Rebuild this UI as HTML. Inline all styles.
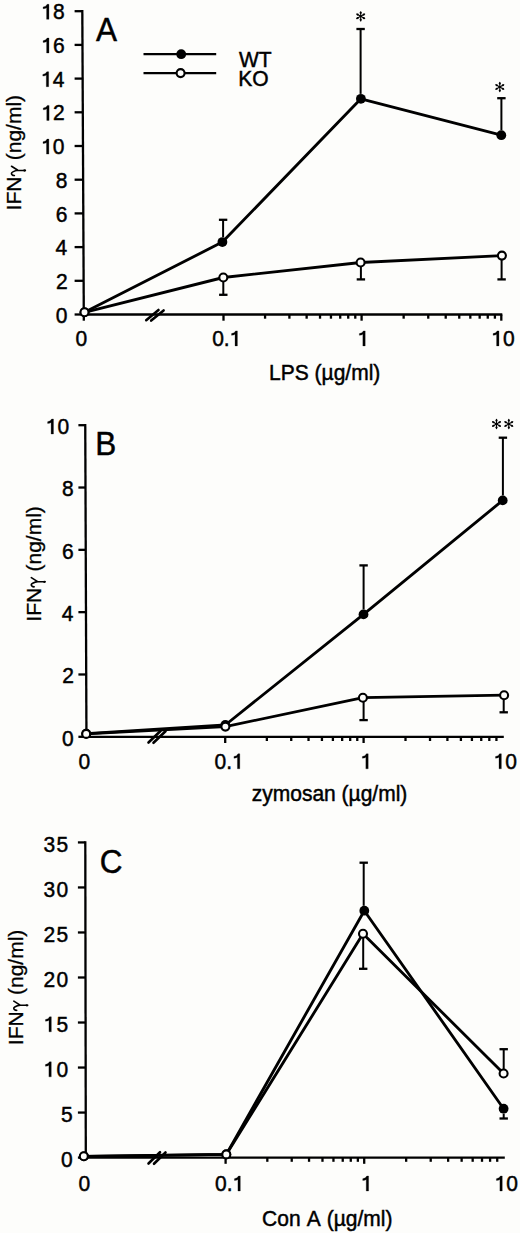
<!DOCTYPE html>
<html><head><meta charset="utf-8"><style>
html,body{margin:0;padding:0;background:#fdfdfb;}
svg{display:block;}
text{font-family:"Liberation Sans",sans-serif;}
</style></head><body>
<svg width="520" height="1233" viewBox="0 0 520 1233">
<rect x="0" y="0" width="520" height="1233" fill="#fdfdfb"/>
<g font-family="Liberation Sans, sans-serif">
<g stroke="#000" fill="none">
<line x1="82.30" y1="10.05" x2="83.80" y2="315.65" stroke-width="2.3" stroke-linecap="butt"/>
<line x1="74.60" y1="314.50" x2="83.80" y2="314.50" stroke-width="2.3" stroke-linecap="butt"/>
<line x1="74.60" y1="280.80" x2="83.63" y2="280.80" stroke-width="2.3" stroke-linecap="butt"/>
<line x1="74.60" y1="247.10" x2="83.47" y2="247.10" stroke-width="2.3" stroke-linecap="butt"/>
<line x1="74.60" y1="213.40" x2="83.30" y2="213.40" stroke-width="2.3" stroke-linecap="butt"/>
<line x1="74.60" y1="179.70" x2="83.13" y2="179.70" stroke-width="2.3" stroke-linecap="butt"/>
<line x1="74.60" y1="146.00" x2="82.97" y2="146.00" stroke-width="2.3" stroke-linecap="butt"/>
<line x1="74.60" y1="112.30" x2="82.80" y2="112.30" stroke-width="2.3" stroke-linecap="butt"/>
<line x1="74.60" y1="78.60" x2="82.63" y2="78.60" stroke-width="2.3" stroke-linecap="butt"/>
<line x1="74.60" y1="44.90" x2="82.47" y2="44.90" stroke-width="2.3" stroke-linecap="butt"/>
<line x1="74.60" y1="11.20" x2="82.30" y2="11.20" stroke-width="2.3" stroke-linecap="butt"/>
<line x1="82.65" y1="314.50" x2="502.30" y2="314.50" stroke-width="2.3" stroke-linecap="butt"/>
<line x1="83.80" y1="314.50" x2="83.80" y2="320.70" stroke-width="2.3" stroke-linecap="butt"/>
<line x1="223.50" y1="314.50" x2="223.50" y2="320.70" stroke-width="2.3" stroke-linecap="butt"/>
<line x1="361.60" y1="314.50" x2="361.60" y2="320.70" stroke-width="2.3" stroke-linecap="butt"/>
<line x1="501.30" y1="314.50" x2="501.30" y2="320.70" stroke-width="2.3" stroke-linecap="butt"/>
<line x1="265.07" y1="314.50" x2="265.07" y2="318.70" stroke-width="2.3" stroke-linecap="butt"/>
<line x1="289.39" y1="314.50" x2="289.39" y2="318.70" stroke-width="2.3" stroke-linecap="butt"/>
<line x1="306.64" y1="314.50" x2="306.64" y2="318.70" stroke-width="2.3" stroke-linecap="butt"/>
<line x1="320.03" y1="314.50" x2="320.03" y2="318.70" stroke-width="2.3" stroke-linecap="butt"/>
<line x1="330.96" y1="314.50" x2="330.96" y2="318.70" stroke-width="2.3" stroke-linecap="butt"/>
<line x1="340.21" y1="314.50" x2="340.21" y2="318.70" stroke-width="2.3" stroke-linecap="butt"/>
<line x1="348.22" y1="314.50" x2="348.22" y2="318.70" stroke-width="2.3" stroke-linecap="butt"/>
<line x1="355.28" y1="314.50" x2="355.28" y2="318.70" stroke-width="2.3" stroke-linecap="butt"/>
<line x1="403.65" y1="314.50" x2="403.65" y2="318.70" stroke-width="2.3" stroke-linecap="butt"/>
<line x1="428.25" y1="314.50" x2="428.25" y2="318.70" stroke-width="2.3" stroke-linecap="butt"/>
<line x1="445.71" y1="314.50" x2="445.71" y2="318.70" stroke-width="2.3" stroke-linecap="butt"/>
<line x1="459.25" y1="314.50" x2="459.25" y2="318.70" stroke-width="2.3" stroke-linecap="butt"/>
<line x1="470.31" y1="314.50" x2="470.31" y2="318.70" stroke-width="2.3" stroke-linecap="butt"/>
<line x1="479.66" y1="314.50" x2="479.66" y2="318.70" stroke-width="2.3" stroke-linecap="butt"/>
<line x1="487.76" y1="314.50" x2="487.76" y2="318.70" stroke-width="2.3" stroke-linecap="butt"/>
<line x1="494.91" y1="314.50" x2="494.91" y2="318.70" stroke-width="2.3" stroke-linecap="butt"/>
<line x1="146.20" y1="320.20" x2="158.50" y2="310.00" stroke-width="2.6" stroke-linecap="round"/>
<line x1="151.20" y1="320.60" x2="163.60" y2="310.40" stroke-width="2.6" stroke-linecap="round"/>
</g>
<g stroke="#000" fill="none">
<path d="M84.50,312.30 L222.40,242.05 L360.90,98.80 L501.30,135.20" stroke-width="2.85" stroke-linejoin="round"/>
<path d="M84.50,312.30 L223.30,277.50 L360.60,262.50 L501.90,255.60" stroke-width="2.85" stroke-linejoin="round"/>
<line x1="223.10" y1="237.15" x2="223.10" y2="219.80" stroke-width="2.0" stroke-linecap="butt"/>
<line x1="218.90" y1="219.80" x2="227.30" y2="219.80" stroke-width="2.3" stroke-linecap="butt"/>
<line x1="360.60" y1="93.90" x2="360.60" y2="29.00" stroke-width="2.0" stroke-linecap="butt"/>
<line x1="356.40" y1="29.00" x2="364.80" y2="29.00" stroke-width="2.3" stroke-linecap="butt"/>
<line x1="501.40" y1="130.30" x2="501.40" y2="98.20" stroke-width="2.0" stroke-linecap="butt"/>
<line x1="497.20" y1="98.20" x2="505.60" y2="98.20" stroke-width="2.3" stroke-linecap="butt"/>
<line x1="223.30" y1="281.50" x2="223.30" y2="294.80" stroke-width="2.0" stroke-linecap="butt"/>
<line x1="219.10" y1="294.80" x2="227.50" y2="294.80" stroke-width="2.3" stroke-linecap="butt"/>
<line x1="360.90" y1="266.50" x2="360.90" y2="279.40" stroke-width="2.0" stroke-linecap="butt"/>
<line x1="356.70" y1="279.40" x2="365.10" y2="279.40" stroke-width="2.3" stroke-linecap="butt"/>
<line x1="501.60" y1="259.60" x2="501.60" y2="279.40" stroke-width="2.0" stroke-linecap="butt"/>
<line x1="497.40" y1="279.40" x2="505.80" y2="279.40" stroke-width="2.3" stroke-linecap="butt"/>
</g>
<circle cx="84.50" cy="312.30" r="4.9" fill="#000"/>
<circle cx="222.40" cy="242.05" r="4.9" fill="#000"/>
<circle cx="360.90" cy="98.80" r="4.9" fill="#000"/>
<circle cx="501.30" cy="135.20" r="4.9" fill="#000"/>
<circle cx="84.50" cy="312.30" r="4.0" fill="#fdfdfb" stroke="#000" stroke-width="2.1"/>
<circle cx="223.30" cy="277.50" r="4.0" fill="#fdfdfb" stroke="#000" stroke-width="2.1"/>
<circle cx="360.60" cy="262.50" r="4.0" fill="#fdfdfb" stroke="#000" stroke-width="2.1"/>
<circle cx="501.90" cy="255.60" r="4.0" fill="#fdfdfb" stroke="#000" stroke-width="2.1"/>
<g stroke="#000" fill="none">
<line x1="85.25" y1="424.05" x2="86.45" y2="737.95" stroke-width="2.3" stroke-linecap="butt"/>
<line x1="78.40" y1="736.80" x2="86.45" y2="736.80" stroke-width="2.3" stroke-linecap="butt"/>
<line x1="78.40" y1="674.48" x2="86.21" y2="674.48" stroke-width="2.3" stroke-linecap="butt"/>
<line x1="78.40" y1="612.16" x2="85.97" y2="612.16" stroke-width="2.3" stroke-linecap="butt"/>
<line x1="78.40" y1="549.84" x2="85.73" y2="549.84" stroke-width="2.3" stroke-linecap="butt"/>
<line x1="78.40" y1="487.52" x2="85.49" y2="487.52" stroke-width="2.3" stroke-linecap="butt"/>
<line x1="78.40" y1="425.20" x2="85.25" y2="425.20" stroke-width="2.3" stroke-linecap="butt"/>
<line x1="85.30" y1="736.80" x2="503.80" y2="736.80" stroke-width="2.3" stroke-linecap="butt"/>
<line x1="225.20" y1="736.80" x2="225.20" y2="743.00" stroke-width="2.3" stroke-linecap="butt"/>
<line x1="363.60" y1="736.80" x2="363.60" y2="743.00" stroke-width="2.3" stroke-linecap="butt"/>
<line x1="266.86" y1="736.80" x2="266.86" y2="741.00" stroke-width="2.3" stroke-linecap="butt"/>
<line x1="291.23" y1="736.80" x2="291.23" y2="741.00" stroke-width="2.3" stroke-linecap="butt"/>
<line x1="308.53" y1="736.80" x2="308.53" y2="741.00" stroke-width="2.3" stroke-linecap="butt"/>
<line x1="321.94" y1="736.80" x2="321.94" y2="741.00" stroke-width="2.3" stroke-linecap="butt"/>
<line x1="332.90" y1="736.80" x2="332.90" y2="741.00" stroke-width="2.3" stroke-linecap="butt"/>
<line x1="342.16" y1="736.80" x2="342.16" y2="741.00" stroke-width="2.3" stroke-linecap="butt"/>
<line x1="350.19" y1="736.80" x2="350.19" y2="741.00" stroke-width="2.3" stroke-linecap="butt"/>
<line x1="357.27" y1="736.80" x2="357.27" y2="741.00" stroke-width="2.3" stroke-linecap="butt"/>
<line x1="405.50" y1="736.80" x2="405.50" y2="741.00" stroke-width="2.3" stroke-linecap="butt"/>
<line x1="430.02" y1="736.80" x2="430.02" y2="741.00" stroke-width="2.3" stroke-linecap="butt"/>
<line x1="447.41" y1="736.80" x2="447.41" y2="741.00" stroke-width="2.3" stroke-linecap="butt"/>
<line x1="460.90" y1="736.80" x2="460.90" y2="741.00" stroke-width="2.3" stroke-linecap="butt"/>
<line x1="471.92" y1="736.80" x2="471.92" y2="741.00" stroke-width="2.3" stroke-linecap="butt"/>
<line x1="481.24" y1="736.80" x2="481.24" y2="741.00" stroke-width="2.3" stroke-linecap="butt"/>
<line x1="489.31" y1="736.80" x2="489.31" y2="741.00" stroke-width="2.3" stroke-linecap="butt"/>
<line x1="496.43" y1="736.80" x2="496.43" y2="741.00" stroke-width="2.3" stroke-linecap="butt"/>
<line x1="148.50" y1="742.50" x2="160.50" y2="731.00" stroke-width="2.6" stroke-linecap="round"/>
<line x1="153.50" y1="742.80" x2="165.50" y2="731.30" stroke-width="2.6" stroke-linecap="round"/>
</g>
<g stroke="#000" fill="none">
<path d="M86.20,733.60 L225.30,725.00 L363.50,614.40 L502.70,500.40" stroke-width="2.85" stroke-linejoin="round"/>
<path d="M86.20,733.90 L225.40,726.60 L362.90,697.70 L504.10,695.20" stroke-width="2.85" stroke-linejoin="round"/>
<line x1="363.60" y1="609.50" x2="363.60" y2="565.40" stroke-width="2.0" stroke-linecap="butt"/>
<line x1="359.40" y1="565.40" x2="367.80" y2="565.40" stroke-width="2.3" stroke-linecap="butt"/>
<line x1="502.90" y1="495.50" x2="502.90" y2="437.70" stroke-width="2.0" stroke-linecap="butt"/>
<line x1="498.70" y1="437.70" x2="507.10" y2="437.70" stroke-width="2.3" stroke-linecap="butt"/>
<line x1="363.60" y1="701.70" x2="363.60" y2="720.10" stroke-width="2.0" stroke-linecap="butt"/>
<line x1="359.40" y1="720.10" x2="367.80" y2="720.10" stroke-width="2.3" stroke-linecap="butt"/>
<line x1="503.70" y1="699.20" x2="503.70" y2="712.30" stroke-width="2.0" stroke-linecap="butt"/>
<line x1="499.50" y1="712.30" x2="507.90" y2="712.30" stroke-width="2.3" stroke-linecap="butt"/>
</g>
<circle cx="86.20" cy="733.60" r="4.9" fill="#000"/>
<circle cx="225.30" cy="725.00" r="4.9" fill="#000"/>
<circle cx="363.50" cy="614.40" r="4.9" fill="#000"/>
<circle cx="502.70" cy="500.40" r="4.9" fill="#000"/>
<circle cx="86.20" cy="733.90" r="4.0" fill="#fdfdfb" stroke="#000" stroke-width="2.1"/>
<circle cx="225.40" cy="726.60" r="4.0" fill="#fdfdfb" stroke="#000" stroke-width="2.1"/>
<circle cx="362.90" cy="697.70" r="4.0" fill="#fdfdfb" stroke="#000" stroke-width="2.1"/>
<circle cx="504.10" cy="695.20" r="4.0" fill="#fdfdfb" stroke="#000" stroke-width="2.1"/>
<g stroke="#000" fill="none">
<line x1="85.30" y1="841.27" x2="85.80" y2="1158.75" stroke-width="2.3" stroke-linecap="butt"/>
<line x1="77.90" y1="1157.60" x2="85.80" y2="1157.60" stroke-width="2.3" stroke-linecap="butt"/>
<line x1="77.90" y1="1112.57" x2="85.73" y2="1112.57" stroke-width="2.3" stroke-linecap="butt"/>
<line x1="77.90" y1="1067.55" x2="85.66" y2="1067.55" stroke-width="2.3" stroke-linecap="butt"/>
<line x1="77.90" y1="1022.52" x2="85.59" y2="1022.52" stroke-width="2.3" stroke-linecap="butt"/>
<line x1="77.90" y1="977.50" x2="85.51" y2="977.50" stroke-width="2.3" stroke-linecap="butt"/>
<line x1="77.90" y1="932.47" x2="85.44" y2="932.47" stroke-width="2.3" stroke-linecap="butt"/>
<line x1="77.90" y1="887.45" x2="85.37" y2="887.45" stroke-width="2.3" stroke-linecap="butt"/>
<line x1="77.90" y1="842.42" x2="85.30" y2="842.42" stroke-width="2.3" stroke-linecap="butt"/>
<line x1="84.65" y1="1157.60" x2="504.80" y2="1157.60" stroke-width="2.3" stroke-linecap="butt"/>
<line x1="225.60" y1="1157.60" x2="225.60" y2="1163.80" stroke-width="2.3" stroke-linecap="butt"/>
<line x1="364.20" y1="1157.60" x2="364.20" y2="1163.80" stroke-width="2.3" stroke-linecap="butt"/>
<line x1="267.32" y1="1157.60" x2="267.32" y2="1161.80" stroke-width="2.3" stroke-linecap="butt"/>
<line x1="291.73" y1="1157.60" x2="291.73" y2="1161.80" stroke-width="2.3" stroke-linecap="butt"/>
<line x1="309.05" y1="1157.60" x2="309.05" y2="1161.80" stroke-width="2.3" stroke-linecap="butt"/>
<line x1="322.48" y1="1157.60" x2="322.48" y2="1161.80" stroke-width="2.3" stroke-linecap="butt"/>
<line x1="333.45" y1="1157.60" x2="333.45" y2="1161.80" stroke-width="2.3" stroke-linecap="butt"/>
<line x1="342.73" y1="1157.60" x2="342.73" y2="1161.80" stroke-width="2.3" stroke-linecap="butt"/>
<line x1="350.77" y1="1157.60" x2="350.77" y2="1161.80" stroke-width="2.3" stroke-linecap="butt"/>
<line x1="357.86" y1="1157.60" x2="357.86" y2="1161.80" stroke-width="2.3" stroke-linecap="butt"/>
<line x1="406.16" y1="1157.60" x2="406.16" y2="1161.80" stroke-width="2.3" stroke-linecap="butt"/>
<line x1="430.71" y1="1157.60" x2="430.71" y2="1161.80" stroke-width="2.3" stroke-linecap="butt"/>
<line x1="448.13" y1="1157.60" x2="448.13" y2="1161.80" stroke-width="2.3" stroke-linecap="butt"/>
<line x1="461.64" y1="1157.60" x2="461.64" y2="1161.80" stroke-width="2.3" stroke-linecap="butt"/>
<line x1="472.67" y1="1157.60" x2="472.67" y2="1161.80" stroke-width="2.3" stroke-linecap="butt"/>
<line x1="482.01" y1="1157.60" x2="482.01" y2="1161.80" stroke-width="2.3" stroke-linecap="butt"/>
<line x1="490.09" y1="1157.60" x2="490.09" y2="1161.80" stroke-width="2.3" stroke-linecap="butt"/>
<line x1="497.22" y1="1157.60" x2="497.22" y2="1161.80" stroke-width="2.3" stroke-linecap="butt"/>
<line x1="148.50" y1="1163.50" x2="160.00" y2="1152.20" stroke-width="2.6" stroke-linecap="round"/>
<line x1="154.00" y1="1163.80" x2="165.50" y2="1152.50" stroke-width="2.6" stroke-linecap="round"/>
</g>
<g stroke="#000" fill="none">
<path d="M84.00,1156.30 L226.30,1154.40 L364.30,910.70 L503.60,1108.70" stroke-width="2.85" stroke-linejoin="round"/>
<path d="M83.80,1156.30 L226.30,1154.40 L363.00,933.80 L503.60,1073.50" stroke-width="2.85" stroke-linejoin="round"/>
<line x1="363.70" y1="905.80" x2="363.70" y2="862.70" stroke-width="2.0" stroke-linecap="butt"/>
<line x1="359.50" y1="862.70" x2="367.90" y2="862.70" stroke-width="2.3" stroke-linecap="butt"/>
<line x1="503.70" y1="1113.60" x2="503.70" y2="1118.50" stroke-width="2.0" stroke-linecap="butt"/>
<line x1="499.50" y1="1118.50" x2="507.90" y2="1118.50" stroke-width="2.3" stroke-linecap="butt"/>
<line x1="363.20" y1="937.80" x2="363.20" y2="968.80" stroke-width="2.0" stroke-linecap="butt"/>
<line x1="359.00" y1="968.80" x2="367.40" y2="968.80" stroke-width="2.3" stroke-linecap="butt"/>
<line x1="503.70" y1="1069.50" x2="503.70" y2="1049.20" stroke-width="2.0" stroke-linecap="butt"/>
<line x1="499.50" y1="1049.20" x2="507.90" y2="1049.20" stroke-width="2.3" stroke-linecap="butt"/>
</g>
<circle cx="84.00" cy="1156.30" r="4.9" fill="#000"/>
<circle cx="226.30" cy="1154.40" r="4.9" fill="#000"/>
<circle cx="364.30" cy="910.70" r="4.9" fill="#000"/>
<circle cx="503.60" cy="1108.70" r="4.9" fill="#000"/>
<circle cx="83.80" cy="1156.30" r="4.0" fill="#fdfdfb" stroke="#000" stroke-width="2.1"/>
<circle cx="226.30" cy="1154.40" r="4.0" fill="#fdfdfb" stroke="#000" stroke-width="2.1"/>
<circle cx="363.00" cy="933.80" r="4.0" fill="#fdfdfb" stroke="#000" stroke-width="2.1"/>
<circle cx="503.60" cy="1073.50" r="4.0" fill="#fdfdfb" stroke="#000" stroke-width="2.1"/>
<g fill="#000">
<text transform="translate(55.64,322.60) scale(1,1.05)" font-size="21" stroke="#000" stroke-width="0.45">0</text>
<text transform="translate(55.88,288.90) scale(1,1.05)" font-size="21" stroke="#000" stroke-width="0.45">2</text>
<text transform="translate(55.44,255.20) scale(1,1.05)" font-size="21" stroke="#000" stroke-width="0.45">4</text>
<text transform="translate(55.74,221.50) scale(1,1.05)" font-size="21" stroke="#000" stroke-width="0.45">6</text>
<text transform="translate(55.73,187.80) scale(1,1.05)" font-size="21" stroke="#000" stroke-width="0.45">8</text>
<text transform="translate(41.16,154.10) scale(1,1.05)" font-size="21" stroke="#000" stroke-width="0.45"> 0</text>
<path transform="translate(41.16,154.10)" d="M5.35 0 L7.7 0 L7.7 -15.0 L5.9 -15.0 Q5.0 -12.6 1.85 -12.3 L1.85 -10.6 Q4.2 -10.7 5.35 -11.6 Z" fill="#000" stroke="#000" stroke-width="0.27"/>
<text transform="translate(41.40,120.40) scale(1,1.05)" font-size="21" stroke="#000" stroke-width="0.45"> 2</text>
<path transform="translate(41.40,120.40)" d="M5.35 0 L7.7 0 L7.7 -15.0 L5.9 -15.0 Q5.0 -12.6 1.85 -12.3 L1.85 -10.6 Q4.2 -10.7 5.35 -11.6 Z" fill="#000" stroke="#000" stroke-width="0.27"/>
<text transform="translate(40.96,86.70) scale(1,1.05)" font-size="21" stroke="#000" stroke-width="0.45"> 4</text>
<path transform="translate(40.96,86.70)" d="M5.35 0 L7.7 0 L7.7 -15.0 L5.9 -15.0 Q5.0 -12.6 1.85 -12.3 L1.85 -10.6 Q4.2 -10.7 5.35 -11.6 Z" fill="#000" stroke="#000" stroke-width="0.27"/>
<text transform="translate(41.26,53.00) scale(1,1.05)" font-size="21" stroke="#000" stroke-width="0.45"> 6</text>
<path transform="translate(41.26,53.00)" d="M5.35 0 L7.7 0 L7.7 -15.0 L5.9 -15.0 Q5.0 -12.6 1.85 -12.3 L1.85 -10.6 Q4.2 -10.7 5.35 -11.6 Z" fill="#000" stroke="#000" stroke-width="0.27"/>
<text transform="translate(41.25,19.30) scale(1,1.05)" font-size="21" stroke="#000" stroke-width="0.45"> 8</text>
<path transform="translate(41.25,19.30)" d="M5.35 0 L7.7 0 L7.7 -15.0 L5.9 -15.0 Q5.0 -12.6 1.85 -12.3 L1.85 -10.6 Q4.2 -10.7 5.35 -11.6 Z" fill="#000" stroke="#000" stroke-width="0.27"/>
<text transform="translate(61.94,745.60) scale(1,1.05)" font-size="21" stroke="#000" stroke-width="0.45">0</text>
<text transform="translate(62.18,683.28) scale(1,1.05)" font-size="21" stroke="#000" stroke-width="0.45">2</text>
<text transform="translate(61.74,620.96) scale(1,1.05)" font-size="21" stroke="#000" stroke-width="0.45">4</text>
<text transform="translate(62.04,558.64) scale(1,1.05)" font-size="21" stroke="#000" stroke-width="0.45">6</text>
<text transform="translate(62.03,496.32) scale(1,1.05)" font-size="21" stroke="#000" stroke-width="0.45">8</text>
<text transform="translate(45.76,434.00) scale(1,1.05)" font-size="21" stroke="#000" stroke-width="0.45"> 0</text>
<path transform="translate(45.76,434.00)" d="M5.35 0 L7.7 0 L7.7 -15.0 L5.9 -15.0 Q5.0 -12.6 1.85 -12.3 L1.85 -10.6 Q4.2 -10.7 5.35 -11.6 Z" fill="#000" stroke="#000" stroke-width="0.27"/>
<text transform="translate(60.94,1166.90) scale(1,1.05)" font-size="21" stroke="#000" stroke-width="0.45">0</text>
<text transform="translate(61.00,1121.87) scale(1,1.05)" font-size="21" stroke="#000" stroke-width="0.45">5</text>
<text transform="translate(43.56,1076.85) scale(1,1.05)" font-size="21" stroke="#000" stroke-width="0.45" letter-spacing="1.2"> 0</text>
<path transform="translate(43.56,1076.85)" d="M5.35 0 L7.7 0 L7.7 -15.0 L5.9 -15.0 Q5.0 -12.6 1.85 -12.3 L1.85 -10.6 Q4.2 -10.7 5.35 -11.6 Z" fill="#000" stroke="#000" stroke-width="0.27"/>
<text transform="translate(43.62,1031.82) scale(1,1.05)" font-size="21" stroke="#000" stroke-width="0.45" letter-spacing="1.2"> 5</text>
<path transform="translate(43.62,1031.82)" d="M5.35 0 L7.7 0 L7.7 -15.0 L5.9 -15.0 Q5.0 -12.6 1.85 -12.3 L1.85 -10.6 Q4.2 -10.7 5.35 -11.6 Z" fill="#000" stroke="#000" stroke-width="0.27"/>
<text transform="translate(43.56,986.80) scale(1,1.05)" font-size="21" stroke="#000" stroke-width="0.45" letter-spacing="1.2">20</text>
<text transform="translate(43.62,941.77) scale(1,1.05)" font-size="21" stroke="#000" stroke-width="0.45" letter-spacing="1.2">25</text>
<text transform="translate(43.56,896.75) scale(1,1.05)" font-size="21" stroke="#000" stroke-width="0.45" letter-spacing="1.2">30</text>
<text transform="translate(43.62,851.72) scale(1,1.05)" font-size="21" stroke="#000" stroke-width="0.45" letter-spacing="1.2">35</text>
<text transform="translate(75.38,345.90) scale(1,1.05)" font-size="21" stroke="#000" stroke-width="0.45">0</text>
<text transform="translate(212.18,345.90) scale(1,1.05)" font-size="21" stroke="#000" stroke-width="0.45">0. </text>
<path transform="translate(229.69,345.90)" d="M5.35 0 L7.7 0 L7.7 -15.0 L5.9 -15.0 Q5.0 -12.6 1.85 -12.3 L1.85 -10.6 Q4.2 -10.7 5.35 -11.6 Z" fill="#000" stroke="#000" stroke-width="0.27"/>
<text transform="translate(357.50,345.90) scale(1,1.05)" font-size="21" stroke="#000" stroke-width="0.45"> </text>
<path transform="translate(357.50,345.90)" d="M5.35 0 L7.7 0 L7.7 -15.0 L5.9 -15.0 Q5.0 -12.6 1.85 -12.3 L1.85 -10.6 Q4.2 -10.7 5.35 -11.6 Z" fill="#000" stroke="#000" stroke-width="0.27"/>
<text transform="translate(491.25,345.90) scale(1,1.05)" font-size="21" stroke="#000" stroke-width="0.45"> 0</text>
<path transform="translate(491.25,345.90)" d="M5.35 0 L7.7 0 L7.7 -15.0 L5.9 -15.0 Q5.0 -12.6 1.85 -12.3 L1.85 -10.6 Q4.2 -10.7 5.35 -11.6 Z" fill="#000" stroke="#000" stroke-width="0.27"/>
<text transform="translate(78.38,768.80) scale(1,1.05)" font-size="21" stroke="#000" stroke-width="0.45">0</text>
<text transform="translate(214.58,768.80) scale(1,1.05)" font-size="21" stroke="#000" stroke-width="0.45">0. </text>
<path transform="translate(232.09,768.80)" d="M5.35 0 L7.7 0 L7.7 -15.0 L5.9 -15.0 Q5.0 -12.6 1.85 -12.3 L1.85 -10.6 Q4.2 -10.7 5.35 -11.6 Z" fill="#000" stroke="#000" stroke-width="0.27"/>
<text transform="translate(360.50,768.80) scale(1,1.05)" font-size="21" stroke="#000" stroke-width="0.45"> </text>
<path transform="translate(360.50,768.80)" d="M5.35 0 L7.7 0 L7.7 -15.0 L5.9 -15.0 Q5.0 -12.6 1.85 -12.3 L1.85 -10.6 Q4.2 -10.7 5.35 -11.6 Z" fill="#000" stroke="#000" stroke-width="0.27"/>
<text transform="translate(493.65,768.80) scale(1,1.05)" font-size="21" stroke="#000" stroke-width="0.45"> 0</text>
<path transform="translate(493.65,768.80)" d="M5.35 0 L7.7 0 L7.7 -15.0 L5.9 -15.0 Q5.0 -12.6 1.85 -12.3 L1.85 -10.6 Q4.2 -10.7 5.35 -11.6 Z" fill="#000" stroke="#000" stroke-width="0.27"/>
<text transform="translate(78.58,1191.00) scale(1,1.05)" font-size="21" stroke="#000" stroke-width="0.45">0</text>
<text transform="translate(215.08,1191.00) scale(1,1.05)" font-size="21" stroke="#000" stroke-width="0.45">0. </text>
<path transform="translate(232.59,1191.00)" d="M5.35 0 L7.7 0 L7.7 -15.0 L5.9 -15.0 Q5.0 -12.6 1.85 -12.3 L1.85 -10.6 Q4.2 -10.7 5.35 -11.6 Z" fill="#000" stroke="#000" stroke-width="0.27"/>
<text transform="translate(360.90,1191.00) scale(1,1.05)" font-size="21" stroke="#000" stroke-width="0.45"> </text>
<path transform="translate(360.90,1191.00)" d="M5.35 0 L7.7 0 L7.7 -15.0 L5.9 -15.0 Q5.0 -12.6 1.85 -12.3 L1.85 -10.6 Q4.2 -10.7 5.35 -11.6 Z" fill="#000" stroke="#000" stroke-width="0.27"/>
<text transform="translate(494.55,1191.00) scale(1,1.05)" font-size="21" stroke="#000" stroke-width="0.45"> 0</text>
<path transform="translate(494.55,1191.00)" d="M5.35 0 L7.7 0 L7.7 -15.0 L5.9 -15.0 Q5.0 -12.6 1.85 -12.3 L1.85 -10.6 Q4.2 -10.7 5.35 -11.6 Z" fill="#000" stroke="#000" stroke-width="0.27"/>
<text transform="translate(269.10,379.60) scale(1,1.05)" font-size="21" stroke="#000" stroke-width="0.45">LPS (µg/ml)</text>
<text transform="translate(251.80,800.80) scale(1,1.05)" font-size="21" stroke="#000" stroke-width="0.45">zymosan (µg/ml)</text>
<text transform="translate(262.10,1225.50) scale(1,1.05)" font-size="21" stroke="#000" stroke-width="0.45" word-spacing="1.4">Con A (µg/ml)</text>
<g transform="translate(21.10,210.40) rotate(-90)"><text font-size="21" stroke="#000" stroke-width="0.3">IFN  (ng/ml)</text><g transform="translate(34.6,0)"><path d="M0.3,-6.75 C0.2,-8.6 1.4,-9.7 2.4,-9.6 C3.6,-9.5 4.6,-7.5 5.5,-3.25 M9.5,-9.55 L5.5,-3.25 L5.3,3.4" fill="none" stroke="#000" stroke-width="1.65" stroke-linecap="round" stroke-linejoin="round"/><ellipse cx="5.3" cy="3.6" rx="1.15" ry="1.5" fill="#000"/></g></g>
<g transform="translate(40.90,621.70) rotate(-90)"><text font-size="21" stroke="#000" stroke-width="0.3">IFN  (ng/ml)</text><g transform="translate(34.6,0)"><path d="M0.3,-6.75 C0.2,-8.6 1.4,-9.7 2.4,-9.6 C3.6,-9.5 4.6,-7.5 5.5,-3.25 M9.5,-9.55 L5.5,-3.25 L5.3,3.4" fill="none" stroke="#000" stroke-width="1.65" stroke-linecap="round" stroke-linejoin="round"/><ellipse cx="5.3" cy="3.6" rx="1.15" ry="1.5" fill="#000"/></g></g>
<g transform="translate(23.40,1045.20) rotate(-90)"><text font-size="21" stroke="#000" stroke-width="0.3">IFN  (ng/ml)</text><g transform="translate(34.6,0)"><path d="M0.3,-6.75 C0.2,-8.6 1.4,-9.7 2.4,-9.6 C3.6,-9.5 4.6,-7.5 5.5,-3.25 M9.5,-9.55 L5.5,-3.25 L5.3,3.4" fill="none" stroke="#000" stroke-width="1.65" stroke-linecap="round" stroke-linejoin="round"/><ellipse cx="5.3" cy="3.6" rx="1.15" ry="1.5" fill="#000"/></g></g>
<text transform="translate(95.90,41.00) scale(1,1.05)" font-size="31.5" stroke="#000" stroke-width="0.45">A</text>
<text transform="translate(95.30,455.10) scale(1,1.05)" font-size="31.5" stroke="#000" stroke-width="0.45">B</text>
<text transform="translate(99.70,872.50) scale(1,1.05)" font-size="31.5" stroke="#000" stroke-width="0.45">C</text>
<text transform="translate(239.00,66.80) scale(1,1.05)" font-size="21" stroke="#000" stroke-width="0.45">WT</text>
<text transform="translate(238.20,85.60) scale(1,1.05)" font-size="21" stroke="#000" stroke-width="0.45">KO</text>
</g>
<g stroke="#000">
<line x1="143.50" y1="54.20" x2="216.20" y2="54.20" stroke-width="2.2" stroke-linecap="butt"/>
<line x1="143.50" y1="73.10" x2="216.20" y2="73.10" stroke-width="2.2" stroke-linecap="butt"/>
</g>
<circle cx="181.2" cy="54.2" r="4.9" fill="#000"/>
<circle cx="180.6" cy="73.1" r="4.0" fill="#fdfdfb" stroke="#000" stroke-width="2.1"/>
<g stroke="#000">
<line x1="360.70" y1="11.70" x2="360.70" y2="20.90" stroke-width="1.1" stroke-linecap="round"/>
<line x1="356.72" y1="14.00" x2="364.68" y2="18.60" stroke-width="1.1" stroke-linecap="round"/>
<line x1="364.68" y1="14.00" x2="356.72" y2="18.60" stroke-width="1.1" stroke-linecap="round"/>
<circle cx="360.70" cy="12.80" r="1.1" fill="#000" stroke="none"/>
<circle cx="363.73" cy="14.55" r="1.1" fill="#000" stroke="none"/>
<circle cx="357.67" cy="14.55" r="1.1" fill="#000" stroke="none"/>
<circle cx="360.70" cy="19.80" r="1.1" fill="#000" stroke="none"/>
<circle cx="357.67" cy="18.05" r="1.1" fill="#000" stroke="none"/>
<circle cx="363.73" cy="18.05" r="1.1" fill="#000" stroke="none"/>
<circle cx="360.70" cy="16.30" r="1.0" fill="#000" stroke="none"/>
<line x1="499.80" y1="82.40" x2="499.80" y2="91.60" stroke-width="1.1" stroke-linecap="round"/>
<line x1="495.82" y1="84.70" x2="503.78" y2="89.30" stroke-width="1.1" stroke-linecap="round"/>
<line x1="503.78" y1="84.70" x2="495.82" y2="89.30" stroke-width="1.1" stroke-linecap="round"/>
<circle cx="499.80" cy="83.50" r="1.1" fill="#000" stroke="none"/>
<circle cx="502.83" cy="85.25" r="1.1" fill="#000" stroke="none"/>
<circle cx="496.77" cy="85.25" r="1.1" fill="#000" stroke="none"/>
<circle cx="499.80" cy="90.50" r="1.1" fill="#000" stroke="none"/>
<circle cx="496.77" cy="88.75" r="1.1" fill="#000" stroke="none"/>
<circle cx="502.83" cy="88.75" r="1.1" fill="#000" stroke="none"/>
<circle cx="499.80" cy="87.00" r="1.0" fill="#000" stroke="none"/>
<line x1="496.50" y1="419.40" x2="496.50" y2="428.60" stroke-width="1.1" stroke-linecap="round"/>
<line x1="492.52" y1="421.70" x2="500.48" y2="426.30" stroke-width="1.1" stroke-linecap="round"/>
<line x1="500.48" y1="421.70" x2="492.52" y2="426.30" stroke-width="1.1" stroke-linecap="round"/>
<circle cx="496.50" cy="420.50" r="1.1" fill="#000" stroke="none"/>
<circle cx="499.53" cy="422.25" r="1.1" fill="#000" stroke="none"/>
<circle cx="493.47" cy="422.25" r="1.1" fill="#000" stroke="none"/>
<circle cx="496.50" cy="427.50" r="1.1" fill="#000" stroke="none"/>
<circle cx="493.47" cy="425.75" r="1.1" fill="#000" stroke="none"/>
<circle cx="499.53" cy="425.75" r="1.1" fill="#000" stroke="none"/>
<circle cx="496.50" cy="424.00" r="1.0" fill="#000" stroke="none"/>
<line x1="508.80" y1="419.40" x2="508.80" y2="428.60" stroke-width="1.1" stroke-linecap="round"/>
<line x1="504.82" y1="421.70" x2="512.78" y2="426.30" stroke-width="1.1" stroke-linecap="round"/>
<line x1="512.78" y1="421.70" x2="504.82" y2="426.30" stroke-width="1.1" stroke-linecap="round"/>
<circle cx="508.80" cy="420.50" r="1.1" fill="#000" stroke="none"/>
<circle cx="511.83" cy="422.25" r="1.1" fill="#000" stroke="none"/>
<circle cx="505.77" cy="422.25" r="1.1" fill="#000" stroke="none"/>
<circle cx="508.80" cy="427.50" r="1.1" fill="#000" stroke="none"/>
<circle cx="505.77" cy="425.75" r="1.1" fill="#000" stroke="none"/>
<circle cx="511.83" cy="425.75" r="1.1" fill="#000" stroke="none"/>
<circle cx="508.80" cy="424.00" r="1.0" fill="#000" stroke="none"/>
</g>
</g>
</svg>
</body></html>
